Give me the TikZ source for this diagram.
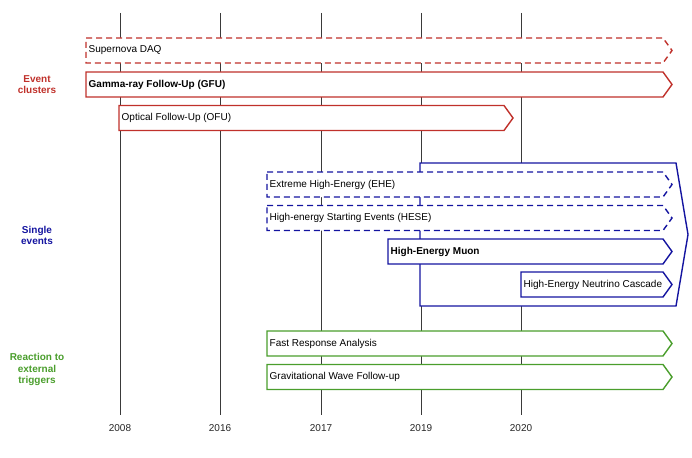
\documentclass[tikz,border=0pt]{standalone}
\usepackage{fontspec}
\setmainfont{Liberation Sans}
\usetikzlibrary{calc}

\definecolor{evred}{HTML}{C0312B}
\definecolor{evblue}{HTML}{1414A0}
\definecolor{evgreen}{HTML}{4A9E2C}
\definecolor{gridgray}{HTML}{3A3A3A}

\tikzset{
    barline/.style={line width=1.4pt, fill=white, line join=miter},
    dashbar/.style={barline, dash pattern=on 6pt off 4pt},
    bartext/.style={inner sep=0pt, anchor=west, font=\fontsize{10}{12}\selectfont},
    grouptext/.style={align=center, font=\fontsize{10}{11.5}\selectfont\bfseries},
    gridline/.style={gridgray, line width=0.8pt},
    yeartext/.style={inner sep=0pt, text=black!85, font=\fontsize{10}{12}\selectfont}
}

% #1 style, #2 name, #3 left, #4 right, #5 middle, #6 text
\newcommand{\tbar}[6][]{%
    \draw[barline,#1] (#3,{#5-12.5}) -- (#4,{#5-12.5}) -- ({#4+9},#5)
        -- (#4,{#5+12.5}) -- (#3,{#5+12.5}) -- cycle;
    \node[bartext] (#2) at ({#3+2.5},#5) {#6};
}

\begin{document}
\begin{tikzpicture}[x=1pt, y=-1pt]

    \useasboundingbox (0,0) rectangle (692,457);

    \foreach \x/\yr in {120/2008, 220/2016, 321/2017, 421/2019, 521/2020} {
        \draw[gridline] (\x,13) coordinate (top\yr) -- (\x,415) coordinate (bot\yr);
        \node[yeartext] (year\yr) at (\x,428) {\yr};
    }

    % event clusters
    \tbar[dashbar, draw=evred]{snova}{86}{663}{50.5}{Supernova DAQ}
    \tbar[draw=evred]{gfu}{86}{663}{84.5}{\bfseries Gamma-ray Follow-Up (GFU)}
    \tbar[draw=evred]{ofu}{119}{504}{118}{Optical Follow-Up (OFU)}

    % single events
    \coordinate (P) at (420,163);
    \coordinate (Q) at (676,163);
    \coordinate (R) at (688,234.5);
    \coordinate (S) at (676,306);
    \coordinate (T) at (420,306);
    \draw[barline, draw=evblue] (P) -- (Q) -- (R) -- (S) -- (T) -- cycle;

    \tbar[dashbar, draw=evblue]{ehe}{267}{663}{184.5}{Extreme High-Energy (EHE)}
    \tbar[dashbar, draw=evblue]{hese}{267}{663}{218}{High-energy Starting Events (HESE)}
    \tbar[draw=evblue]{hem}{388}{663}{251.5}{\bfseries High-Energy Muon}
    \tbar[draw=evblue]{henc}{521}{663}{284.5}{High-Energy Neutrino Cascade}

    % external triggers
    \tbar[draw=evgreen]{fra}{267}{663}{343.5}{Fast Response Analysis}
    \tbar[draw=evgreen]{gw}{267}{663}{377}{Gravitational Wave Follow-up}

    \node[grouptext, text=evred] (clusters) at (37,84.5) {Event\\clusters};
    \node[grouptext, text=evblue] (single) at (37,235.5) {Single\\events};
    \node[grouptext, text=evgreen] (reaction) at (37,369.5) {Reaction to\\external\\triggers};

\end{tikzpicture}
\end{document}
